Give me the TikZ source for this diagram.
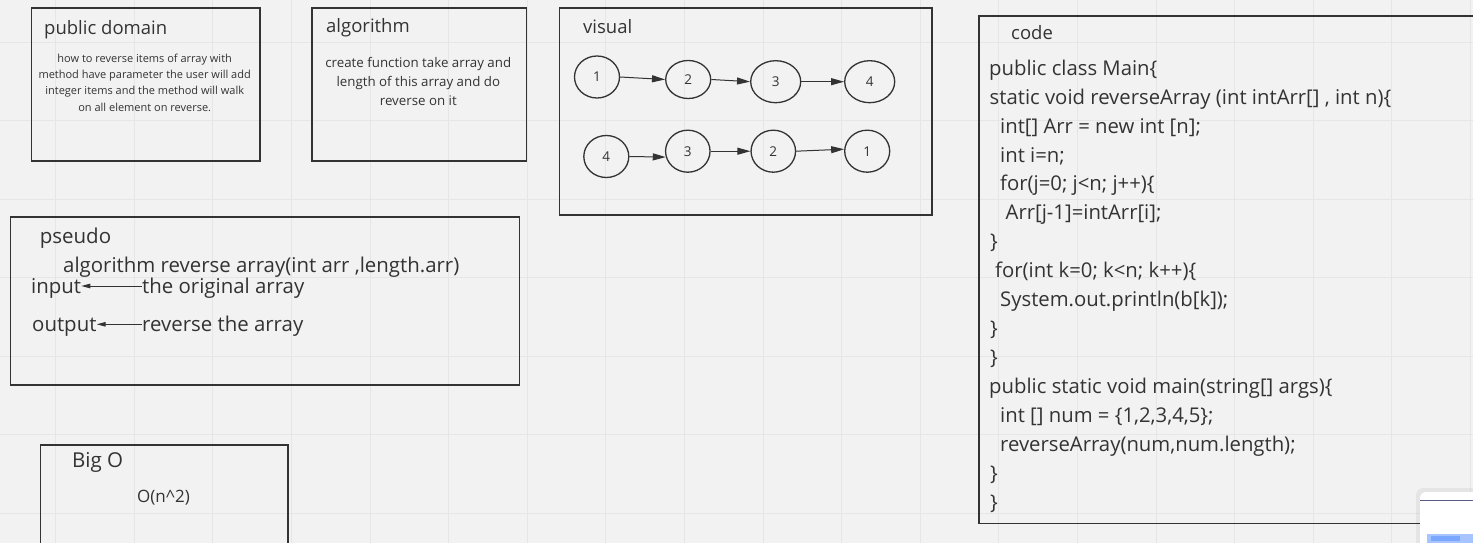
\documentclass[tikz,border=0pt]{standalone}
\usepackage{fontspec}
\setmainfont{Open Sans}
\usetikzlibrary{shapes.geometric,arrows.meta,calc}
\definecolor{bg}{HTML}{F2F2F2}
\definecolor{gridc}{HTML}{E6E6E6}
\definecolor{ink}{HTML}{333333}
\definecolor{popline}{HTML}{5A5A85}
\definecolor{barlight}{HTML}{A6C4FF}
\definecolor{bardark}{HTML}{7BA7FF}
\tikzset{
 panel/.style={draw=ink, line width=1.6pt, anchor=north west, inner sep=0pt},
 title/.style={anchor=base west, inner sep=0pt, text=ink, font=\fontsize{18.5}{22}\selectfont},
 bigtitle/.style={anchor=base west, inner sep=0pt, text=ink, font=\fontsize{20.5}{24}\selectfont},
 small/.style={anchor=base, inner sep=0pt, text=ink, font=\fontsize{11}{13}\selectfont},
 desc/.style={anchor=base, inner sep=0pt, text=ink, font=\fontsize{13.3}{15}\selectfont},
 big/.style={anchor=base west, inner sep=0pt, text=ink, font=\fontsize{20.4}{24}\selectfont},
 codeline/.style={anchor=base west, inner sep=0pt, text=ink, font=\fontsize{20.3}{24}\selectfont},
 cplx/.style={anchor=base west, inner sep=0pt, text=ink, font=\fontsize{17}{20}\selectfont},
 elem/.style={ellipse, draw=ink, line width=1.3pt, inner sep=0pt, text=ink, font=\fontsize{13.5}{16}\selectfont},
 link/.style={draw=ink, line width=1pt, -{Triangle[length=13pt,width=7pt]}},
 plink/.style={draw=ink, line width=1pt, -{Triangle[length=9pt,width=4.5pt]}},
}
\begin{document}
\begin{tikzpicture}[x=1pt,y=-1pt]
\useasboundingbox (0,0) rectangle (1473,543);
\clip (0,0) rectangle (1473,543);
\fill[bg] (0,0) rectangle (1473,543);
% grid
\foreach \i in {0,...,18} \draw[gridc, line width=0.8pt] ({55.5+78.6*\i},0) -- ({55.5+78.6*\i},543);
\foreach \j in {0,...,6} \draw[gridc, line width=0.8pt] (0,{42+78.5*\j}) -- (1473,{42+78.5*\j});

% public domain
\node[panel, minimum width=228.5pt, minimum height=152.5pt] (pd) at (30.5,7.5) {};
\node[title] (pdt) at (44,35) {public domain};
\node[small] (pd1) at (144.7,63) {how to reverse items of array with};
\node[small] (pd2) at (144.7,79) {method have parameter the user will add};
\node[small] (pd3) at (144.7,95) {integer items and the method will walk};
\node[small] (pd4) at (144.7,111) {on all element on reverse.};

% algorithm
\node[panel, minimum width=214.5pt, minimum height=152.5pt] (al) at (311,7.5) {};
\node[title] (alt) at (326,32.7) {algorithm};
\node[desc] (al1) at (418.3,67.5) {create function take array and};
\node[desc] (al2) at (418.3,86.5) {length of this array and do};
\node[desc] (al3) at (418.3,105.5) {reverse on it};

% visual
\node[panel, minimum width=372.5pt, minimum height=206.5pt] (vi) at (558.5,7.5) {};
\node[title] (vit) at (583,33.3) {visual};
\node[elem, minimum width=45pt, minimum height=42pt] (t1) at (597,77) {1};
\node[elem, minimum width=45pt, minimum height=38pt] (t2) at (688.2,79.5) {2};
\node[elem, minimum width=50pt, minimum height=42pt] (t3) at (775.7,81.7) {3};
\node[elem, minimum width=50pt, minimum height=42pt] (t4) at (869.7,81.7) {4};
\node[elem, minimum width=45pt, minimum height=42pt] (b4) at (606.3,156.5) {4};
\node[elem, minimum width=44.5pt, minimum height=42pt] (b3) at (687.8,151.2) {3};
\node[elem, minimum width=44.5pt, minimum height=42pt] (b2) at (773.3,151.2) {2};
\node[elem, minimum width=45pt, minimum height=42pt] (b1) at (867.2,151.2) {1};
\draw[link] (t1.east) -- (t2.west);
\draw[link] (t2.east) -- (t3.west);
\draw[link] (t3.east) -- (t4.west);
\draw[link] (b4.east) -- (b3.195);
\draw[link] (b3.east) -- (b2.west);
\draw[link] (b2.east) -- (b1.175);

% pseudo
\node[panel, minimum width=509pt, minimum height=168pt] (ps) at (9.5,216) {};
\node[bigtitle] (pst) at (39.6,243.3) {pseudo};
\node[big] (psa) at (63,272.7) {algorithm reverse array(int arr ,length.arr)};
\node[big] (inp) at (31,293.3) {input};
\node[big] (orig) at (142,293.3) {the original array};
\node[big] (outp) at (32,331.7) {output};
\node[big] (rev) at (142,331.7) {reverse the array};
\draw[plink] ([yshift=7.3pt]orig.base west) -- ([yshift=7.3pt]inp.base east);
\draw[plink] ([yshift=7.4pt]rev.base west) -- ([yshift=7.4pt]outp.base east);

% Big O
\node[panel, minimum width=247.5pt, minimum height=130pt] (bo) at (39.5,444) {};
\node[bigtitle] (bot) at (72,467.3) {Big O};
\node[cplx] (boc) at (137,502) {O(n\textasciicircum2)};

% code
\node[panel, minimum width=520pt, minimum height=507.5pt] (co) at (978,15) {};
\node[title] (cot) at (1011,40) {code};
\node[codeline] (c1) at (989,75) {public class Main\{};
\node[codeline] (c2) at (989.5,104) {static void reverseArray (int intArr[] , int n)\{};
\node[codeline] (c3) at (1000,133) {int[] Arr = new int [n];};
\node[codeline] (c4) at (1000,162) {int i=n;};
\node[codeline] (c5) at (1000,190.5) {for(j=0; j<n; j++)\{};
\node[codeline] (c6) at (1005.5,219.5) {Arr[j-1]=intArr[i];};
\node[codeline] (c7) at (990,248.5) {\}};
\node[codeline] (c8) at (995,277.5) {for(int k=0; k<n; k++)\{};
\node[codeline] (c9) at (1000,306.5) {System.out.println(b[k]);};
\node[codeline] (c10) at (990,335.5) {\}};
\node[codeline] (c11) at (990,364.5) {\}};
\node[codeline] (c12) at (989,393.5) {public static void main(string[] args)\{};
\node[codeline] (c13) at (1000,422.5) {int [] num = \{1,2,3,4,5\};};
\node[codeline] (c14) at (1000,451.5) {reverseArray(num,num.length);};
\node[codeline] (c15) at (990,480.5) {\}};
\node[codeline] (c16) at (990,509.5) {\}};

% popup corner
\fill[black, opacity=0.05, rounded corners=7pt] (1416,488) -- (1500,488) -- (1500,560) -- (1416,560) -- cycle;
\fill[white, rounded corners=6pt] (1420,560) -- (1420,492) -- (1500,492) -- (1500,560) -- cycle;
\draw[popline, line width=1.3pt] (1420,500.7) -- (1473,500.7);
\fill[barlight] (1427,534) rectangle (1473,543);
\fill[bardark] (1431,536) rectangle (1460,541);
\end{tikzpicture}
\end{document}
